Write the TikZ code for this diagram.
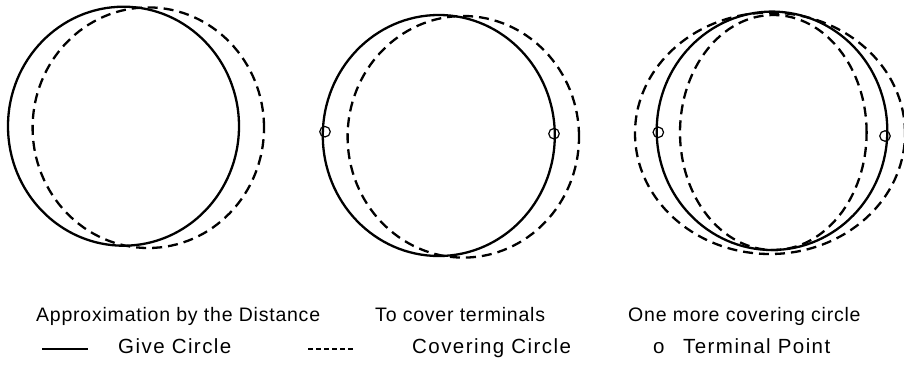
\documentclass[tikz,border=0pt]{standalone}
\usepackage{fontspec}
\setmainfont{Liberation Sans}
\newfontfamily\rowonefont[LetterSpace=4]{Liberation Sans}
\newfontfamily\rowtwofont[LetterSpace=7]{Liberation Sans}
\begin{document}
\begin{tikzpicture}[x=1pt,y=-1pt,
  givecircle/.style={draw=black,line width=2.3pt},
  covercircle/.style={draw=black,line width=2.3pt,dash pattern=on 10pt off 6pt},
  terminal/.style={circle,draw=black,line width=1.2pt,minimum size=10.5pt,inner sep=0pt,fill=none},
  titletext/.style={anchor=base west,inner sep=0pt,font=\rowonefont\fontsize{19.5}{22}\selectfont},
  legendtext/.style={anchor=base west,inner sep=0pt,font=\rowtwofont\fontsize{20.5}{23}\selectfont},
  legendsolid/.style={line width=1.6pt},
  legenddash/.style={line width=1.6pt,dash pattern=on 5pt off 3pt}]
\useasboundingbox (0,0) rectangle (904,370);
\fill[white] (0,0) rectangle (904,370);

% panel 1
\draw[givecircle] (123.5,126.2) ellipse [x radius=115.5pt, y radius=119.5pt];
\draw[covercircle] (148.3,127.7) ellipse [x radius=115.7pt, y radius=120.3pt];

% panel 2
\draw[givecircle] (438.8,135.5) ellipse [x radius=116pt, y radius=120.5pt];
\draw[covercircle] (463.3,136.8) ellipse [x radius=115.7pt, y radius=120.8pt];
\node[terminal] (t1) at (325,131.7) {};
\node[terminal] (t2) at (554,133.7) {};

% panel 3
\draw[covercircle] (770,133.3) ellipse [x radius=135pt, y radius=120.7pt];
\draw[givecircle] (772,130.8) ellipse [x radius=115.3pt, y radius=119.2pt];
\draw[covercircle] (773.3,132.5) ellipse [x radius=93.3pt, y radius=117.5pt];
\node[terminal] (t3) at (658.3,132.3) {};
\node[terminal] (t4) at (885,136) {};

% captions
\node[titletext] (cap1) at (36,321) {Approximation by the Distance};
\node[titletext] (cap2) at (375,321) {To cover terminals};
\node[titletext] (cap3) at (628,321) {One more covering circle};

% legend
\coordinate (ls1) at (42,349);
\coordinate (ls2) at (88,349);
\draw[legendsolid] (ls1) -- (ls2);
\node[legendtext] (lg1) at (118,353) {Give Circle};
\coordinate (ld1) at (308,349);
\coordinate (ld2) at (353,349);
\draw[legenddash] (ld1) -- (ld2);
\node[legendtext] (lg2) at (412,353) {Covering Circle};
\node[legendtext] (lg3) at (653,353) {o};
\node[legendtext] (lg4) at (683,353) {Terminal Point};
\end{tikzpicture}
\end{document}
